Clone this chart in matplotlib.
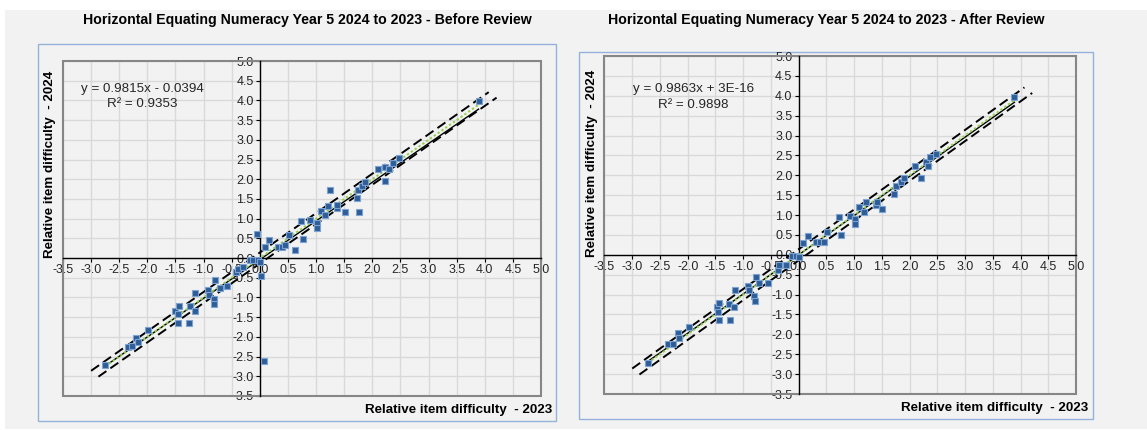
import numpy as np
import matplotlib.pyplot as plt
from matplotlib.patches import Rectangle

plt.rcParams['font.family'] = ['Liberation Sans', 'DejaVu Sans']
plt.rcParams['axes.unicode_minus'] = False

W, H = 1147, 430

# relative item difficulty, 2023 (x) vs 2024 (y) - before review
x_before = [-2.75, -2.35, -2.28, -2.20, -2.17, -1.99, -1.50, -1.46, -1.44, -1.46,
            -1.26, -1.25, -1.16, -1.16, -0.92, -0.91, -0.79, -0.81, -0.81, -0.70,
            -0.58, -0.43, -0.38, -0.30, -0.18, -0.12, -0.04, 0.00, -0.05, 0.02,
            0.07, 0.09, 0.16, 0.33, 0.39, 0.45, 0.51, 0.63, 0.73, 0.76,
            0.90, 1.01, 1.01, 1.09, 1.16, 1.21, 1.25, 1.37, 1.38, 1.51,
            1.73, 1.77, 1.75, 1.82, 1.87, 2.11, 2.22, 2.30, 2.22, 2.37,
            2.48, 3.89]
y_before = [-2.72, -2.26, -2.24, -2.02, -2.13, -1.82, -1.35, -1.43, -1.22, -1.64,
            -1.64, -1.22, -1.34, -0.88, -0.80, -0.93, -0.55, -1.03, -1.16, -0.75,
            -0.70, -0.35, -0.27, -0.22, -0.04, -0.04, -0.06, -0.10, 0.60, -0.46,
            -2.61, 0.28, 0.46, 0.28, 0.29, 0.33, 0.58, 0.20, 0.93, 0.48,
            0.96, 0.89, 0.76, 1.19, 1.09, 1.32, 1.72, 1.27, 1.34, 1.16,
            1.52, 1.16, 1.73, 1.84, 1.92, 2.26, 2.31, 2.25, 1.95, 2.42,
            2.54, 3.98]

# after review (outliers removed)
x_after = [-2.72, -2.36, -2.26, -2.18, -2.16, -1.98, -1.48, -1.46, -1.43, -1.44,
           -1.23, -1.25, -1.17, -1.15, -0.92, -0.90, -0.76, -0.80, -0.79, -0.72,
           -0.56, -0.38, -0.35, -0.22, -0.12, -0.05, 0.00, 0.08, 0.17, 0.32,
           0.39, 0.46, 0.52, 0.73, 0.76, 0.92, 1.01, 1.01, 1.08, 1.18,
           1.22, 1.39, 1.42, 1.51, 1.71, 1.76, 1.85, 1.90, 2.09, 2.21,
           2.30, 2.34, 2.37, 2.47, 3.89]
y_after = [-2.71, -2.24, -2.24, -1.97, -2.08, -1.81, -1.32, -1.43, -1.21, -1.63,
           -1.63, -1.24, -1.32, -0.88, -0.79, -0.88, -0.55, -1.03, -1.16, -0.70,
           -0.72, -0.37, -0.26, -0.26, -0.03, -0.03, -0.05, 0.30, 0.48, 0.31,
           0.31, 0.32, 0.58, 0.94, 0.49, 0.98, 0.89, 0.78, 1.21, 1.07,
           1.34, 1.26, 1.34, 1.16, 1.53, 1.73, 1.84, 1.94, 2.24, 1.94,
           2.33, 2.24, 2.46, 2.54, 3.97]

titles = ["Horizontal Equating Numeracy Year 5 2024 to 2023 - Before Review",
          "Horizontal Equating Numeracy Year 5 2024 to 2023 - After Review"]
equations = ["y = 0.9815x - 0.0394", "y = 0.9863x + 3E-16"]
r2_labels = ["R\u00b2 = 0.9353", "R\u00b2 = 0.9898"]
slopes = [0.9815, 0.9863]
intercepts = [-0.0394, 0.0]

# dashed band lines either side of y = x
band = 0.14
upper_x = [-3.0, 4.07]
lower_x = [-2.87, 4.21]

ticks = np.arange(-3.5, 5.01, 0.5)


def fx(p):
    return p / W


def fy(p):
    return 1 - p / H


fig = plt.figure(figsize=(W / 100, H / 100), dpi=100)
fig.patches.append(Rectangle((fx(5), fy(429)), fx(W) - fx(5), fy(10) - fy(429),
                             transform=fig.transFigure, fc='#f2f2f2', ec='none', zorder=-10))

# pixel layout of both panels
panels = [
    dict(plot=(63, 61, 541, 396), border=(37.5, 44, 556, 421), title=(307, 20),
         ylab=(50, 164), xlab=(552, 410), eq=(142.5, 89, 104)),
    dict(plot=(604.5, 56, 1076, 394), border=(579, 52, 1092.5, 419), title=(826, 20),
         ylab=(591.5, 163), xlab=(1088, 408), eq=(693.6, 89, 105)),
]
data = [(x_before, y_before), (x_after, y_after)]

for i, p in enumerate(panels):
    bx0, by0, bx1, by1 = p['border']
    fig.patches.append(Rectangle((fx(bx0), fy(by1)), fx(bx1) - fx(bx0), fy(by0) - fy(by1),
                                 transform=fig.transFigure, fill=False,
                                 ec='#95b3d7', lw=1.0, zorder=-5))
    x0, y0, x1, y1 = p['plot']
    ax = fig.add_axes([fx(x0), fy(y1), fx(x1) - fx(x0), fy(y0) - fy(y1)])
    ax.set_facecolor('#f2f2f2')
    ax.set_xlim(-3.5, 5.0)
    ax.set_ylim(-3.5, 5.0)
    ax.set_xticks(ticks)
    ax.set_yticks(ticks)
    ax.xaxis.set_major_formatter('{x:.1f}')
    ax.yaxis.set_major_formatter('{x:.1f}')
    ax.grid(True, color='#d9d9d9', lw=1.0)
    ax.set_axisbelow(True)
    ax.spines['left'].set_position(('data', 0))
    ax.spines['bottom'].set_position(('data', 0))
    ax.spines['top'].set_visible(False)
    ax.spines['right'].set_visible(False)
    for s in ('left', 'bottom'):
        ax.spines[s].set_linewidth(1.0)
        ax.spines[s].set_color('black')
    ax.tick_params(direction='out', length=3, width=0.8, labelsize=9,
                   labelcolor='#262626', pad=1.5)
    ax.add_patch(Rectangle((0, 0), 1, 1, transform=ax.transAxes, fill=False,
                           ec='#868686', lw=1.5, clip_on=False, zorder=1))

    x, y = data[i]
    xr = np.array([min(x), max(x)])
    ax.plot(upper_x, np.array(upper_x) + band, color='black', lw=1.4, dashes=(5, 2.5), zorder=3)
    ax.plot(lower_x, np.array(lower_x) - band, color='black', lw=1.4, dashes=(5, 2.5), zorder=3)
    ax.plot(xr, slopes[i] * xr + intercepts[i], color='black', lw=1.0, zorder=3)
    ax.plot(xr, xr, color='#92d050', lw=1.4, ls=(0, (1.2, 1.2)), zorder=4)
    ax.plot(x, y, 's', ms=4.8, mfc='#2f5d96', mec='#7ba3d4', mew=0.8, zorder=5)

    tx, ty = p['title']
    fig.text(fx(tx), fy(ty), titles[i], ha='center', va='center',
             fontsize=10.2, fontweight='bold')
    lx, ly = p['ylab']
    fig.text(fx(lx), fy(ly), "Relative item difficulty  - 2024", rotation=90,
             ha='center', va='center', fontsize=9.6, fontweight='bold')
    rx, ry = p['xlab']
    fig.text(fx(rx), fy(ry), "Relative item difficulty  - 2023",
             ha='right', va='center', fontsize=9.6, fontweight='bold')
    ex, ey1, ey2 = p['eq']
    fig.text(fx(ex), fy(ey1), equations[i], ha='center', va='center',
             fontsize=9.6, color='#262626')
    fig.text(fx(ex), fy(ey2), r2_labels[i], ha='center', va='center',
             fontsize=9.6, color='#262626')

fig.savefig('out.png', dpi=100)
